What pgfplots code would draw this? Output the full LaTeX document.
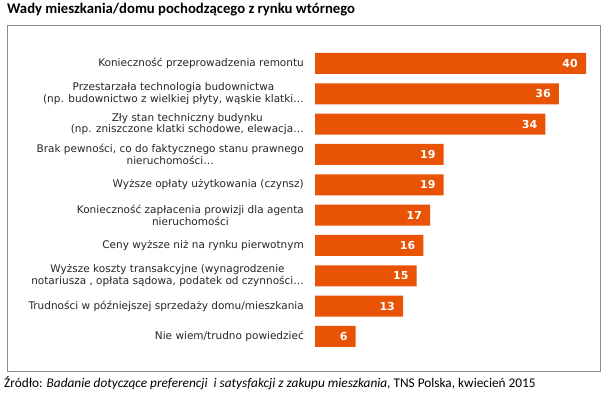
\documentclass[border=0pt]{standalone}
\usepackage{pgfplots}
\pgfplotsset{compat=1.18}
\usepackage{fontspec}
\setmainfont{DejaVu Sans}
\newfontfamily\carlito{Carlito}
\definecolor{barc}{RGB}{232,83,6}
\definecolor{framec}{RGB}{140,140,140}
\begin{document}
\begin{tikzpicture}[x=1pt,y=1pt]
\path[fill=white] (0,0) rectangle (604,400);
\draw[framec, line width=1pt] (7,29) rectangle (600,374);
\node[anchor=base west, inner sep=0pt, font=\carlito\bfseries\fontsize{14.7}{17}\selectfont] at (7,386.5) {Wady mieszkania/domu pochodzącego z rynku wtórnego};
\node[anchor=base west, inner sep=0pt, font=\carlito\fontsize{13.3}{15}\selectfont] at (4,13) {Źródło: \textit{Badanie dotyczące preferencji \ i satysfakcji z zakupu mieszkania,} TNS Polska, kwiecień 2015};
\begin{axis}[
  at={(315pt,48.4pt)}, anchor=south west,
  scale only axis, width=271pt, height=303.3pt,
  xmin=0, xmax=40, ymin=-0.5, ymax=9.5,
  y dir=reverse,
  xbar, bar width=21pt,
  axis line style={draw=none},
  xtick=\empty,
  ytick={0,...,9},
  major tick length=0pt,
  ytick style={draw=none},
  yticklabel style={align=center, anchor=east, inner sep=0pt, xshift=-11pt,
    font=\fontsize{10.5}{11.5}\selectfont, text=black!85},
  yticklabels={
    {Konieczność przeprowadzenia remontu},
    {Przestarzała technologia budownictwa\\(np. budownictwo z wielkiej płyty, wąskie klatki…},
    {Zły stan techniczny budynku\\(np. zniszczone klatki schodowe, elewacja…},
    {Brak pewności, co do faktycznego stanu prawnego\\nieruchomości…},
    {Wyższe opłaty użytkowania (czynsz)},
    {Konieczność zapłacenia prowizji dla agenta\\nieruchomości},
    {Ceny wyższe niż na rynku pierwotnym},
    {Wyższe koszty transakcyjne (wynagrodzenie\\notariusza , opłata sądowa, podatek od czynności…},
    {Trudności w późniejszej sprzedaży domu/mieszkania},
    {Nie wiem/trudno powiedzieć}
  },
  /pgf/number format/assume math mode=true,
  nodes near coords,
  every node near coord/.append style={anchor=east, inner sep=0pt, xshift=-8pt,
    text=white, font=\bfseries\fontsize{11}{12}\selectfont},
  clip=false,
]
\addplot[fill=barc, draw=none] coordinates {
  (40,0) (36,1) (34,2) (19,3) (19,4) (17,5) (16,6) (15,7) (13,8) (6,9)
};
\end{axis}
\end{tikzpicture}
\end{document}
